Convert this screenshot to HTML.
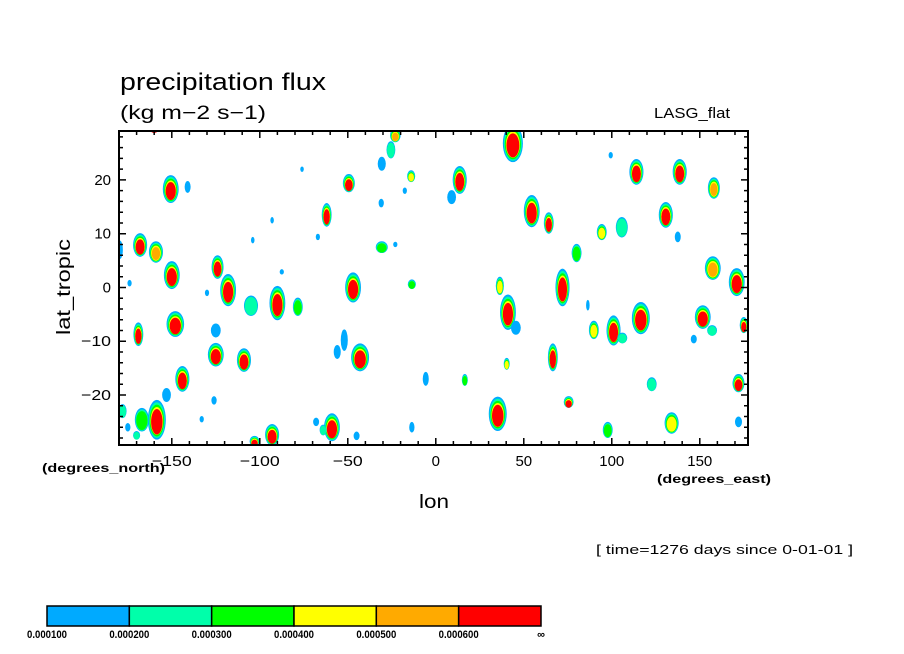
<!DOCTYPE html>
<html><head><meta charset="utf-8">
<style>
html,body{margin:0;padding:0;background:#fff;}
svg{display:block;font-family:"Liberation Sans",sans-serif;}
</style></head>
<body>
<svg id="chart" width="904" height="654" viewBox="0 0 904 654" xmlns="http://www.w3.org/2000/svg">
  <rect x="0" y="0" width="904" height="654" fill="#fff"/>
  <text x="120" y="90" font-size="24" textLength="206" lengthAdjust="spacingAndGlyphs">precipitation flux</text>
  <text x="120" y="119" font-size="19" textLength="146" lengthAdjust="spacingAndGlyphs">(kg m−2 s−1)</text>
  <text x="654" y="118" font-size="15" textLength="76" lengthAdjust="spacingAndGlyphs">LASG_flat</text>
  <defs><clipPath id="plotclip"><rect x="119" y="131" width="629" height="314"/></clipPath></defs>
  <g id="blobs" clip-path="url(#plotclip)"></g>
  <g id="axes"></g>
  <text transform="translate(70,287) rotate(-90)" font-size="19" text-anchor="middle" textLength="96" lengthAdjust="spacingAndGlyphs">lat_tropic</text>
  <text x="434" y="508" font-size="19" text-anchor="middle" textLength="30" lengthAdjust="spacingAndGlyphs">lon</text>
  <text x="42" y="472" font-size="12" font-weight="bold" textLength="123" lengthAdjust="spacingAndGlyphs">(degrees_north)</text>
  <text x="657" y="483" font-size="12" font-weight="bold" textLength="114" lengthAdjust="spacingAndGlyphs">(degrees_east)</text>
  <text x="596" y="554" font-size="13" textLength="257" lengthAdjust="spacingAndGlyphs">[ time=1276 days since 0-01-01 ]</text>
  <g id="colorbar"></g>
</svg>
<script>
const levelColors = ["#00aaff","#00ffaa","#00ff00","#ffff00","#ffaa00","#ff0000"];
const levelLabels = ["0.000100","0.000200","0.000300","0.000400","0.000500","0.000600","∞"];
const lonTicks = [-150,-100,-50,0,50,100,150];
const latTicks = [-20,-10,0,10,20];
// blob centers (lon, lat), peak level, half-widths in degrees
const blobLon = [-160,-150.6,-141,-168,-159,-179.5,-150,-174,-124,-118,-130,-105,-90,-78.4,-87.5,-148,-169,-125,-125,-109,-144,-178,-167,-158.5,-175,-126,-133,-103,-93,-59,-45,-68,-62,-49.4,-76,-93,-67,-104,-30.7,-23,-47,-13.6,-43,-52,-5.7,-13.6,-23,-25.5,-30.7,-14,-17.6,-31,13.6,9,43.8,54.5,64.2,80,72,36.4,41,45.5,86.4,89.8,101,106,116.5,151.7,157,146.6,157.4,171,175,172,66.5,40.3,16.5,35.2,75.5,97.7,134,122.7,99.4,114,138.6,158,130.7,137.5,105.7,94.3,172,-153,-64,-170,-56];
const blobLat = [29.5,18.3,18.7,7.9,6.6,7,2.3,0.8,3.8,-0.5,-1,-3.4,-2.9,-3.6,2.9,-6.8,-8.7,-12.5,-8,-13.5,-17,-23,-24.6,-24.6,-26,-21,-24.5,-28.6,-27.4,-26,-27.6,-25,13.5,19.4,22,12.5,9.4,8.8,7.5,8,0,0.6,-13,-9.8,-17,-26,28.3,25.6,23,20.7,18,15.7,20,16.8,26.8,14.2,12,6.4,0,0.3,-4.6,-7.5,-3.3,-7.9,-8,-9.4,-5.7,-5.5,-8,-9.6,3.6,1,-7,-17.8,-13,-14.2,-17.2,-23.5,-21.3,-26.5,-25.2,-18,24.6,21.5,21.5,18.5,13.5,9.4,11.2,10.3,-25,-20,-26.5,-27.5,-12];
const blobLevel = [6,6,1,6,5,1,6,1,6,6,1,2,6,3,1,6,6,6,1,6,6,2,3,6,1,1,1,6,6,6,1,1,6,6,1,1,1,1,3,1,6,3,6,1,1,1,5,2,1,4,1,1,6,1,6,6,6,3,6,4,6,1,1,4,6,2,6,6,2,1,5,6,6,6,6,4,3,6,6,3,4,2,1,6,6,5,6,1,2,4,1,1,2,2,1];
const blobRx = [3,4.5,1.7,4,4,1.7,4.5,1.2,3.4,4.5,1.2,4,4.5,2.8,1.2,5,2.8,4.5,2.8,4,4,2.3,4,5.1,1.5,1.5,1.2,2.8,4,4.5,1.7,1.7,2.8,3.4,1,1,1.2,1,3.4,1.2,4.5,2.3,5.1,2,1.7,1.5,3,2.5,2.3,2.3,1.2,1.5,4,2.5,5.7,4.5,2.8,2.8,4,2.3,4.5,2.8,1,2.8,4,2.8,5.1,4.5,2.8,1.7,4.5,4.5,2.3,3.4,2.8,1.7,1.7,5.1,2.8,2.8,4,2.8,1.2,4,4,3.4,4,1.7,3.4,2.8,2,2.5,2,2,2];
const blobRy = [0.6,2.6,1.1,2.2,2,1.7,2.6,0.6,2.2,3,0.6,1.9,3.2,1.7,0.5,2.4,2.2,2.2,1.3,2.2,2.4,1.3,2.2,3.7,0.8,0.8,0.6,1,2,2.6,0.8,0.8,2.2,1.7,0.5,0.6,0.6,0.6,1.1,0.5,2.8,0.9,2.6,2,1.3,1,1.3,1.6,1.3,1.1,0.6,0.8,2.6,1.3,3.5,3,2,1.7,3.5,1.7,3.3,1.3,1,1.7,2.8,1,3,2.2,1,0.8,2.2,2.6,1.5,1.7,2.6,1.1,1.1,3.2,1.1,1.5,2,1.3,0.6,2.4,2.4,2,2.4,1,1.9,1.5,1,1.3,1,0.8,1.3];

const X0=119, X1=748, Y0=131, Y1=445;
const lonMin=-180, lonMax=177.4, latMin=-29.3, latMax=29.1;
function xScale(lon){return X0+(lon-lonMin)/(lonMax-lonMin)*(X1-X0);}
function yScale(lat){return Y1-(lat-latMin)/(latMax-latMin)*(Y1-Y0);}
const pxPerLon=(X1-X0)/(lonMax-lonMin), pxPerLat=(Y1-Y0)/(latMax-latMin);
const NS="http://www.w3.org/2000/svg";
const gB=document.getElementById('blobs');
for(let i=0;i<blobLon.length;i++){
  const L=blobLevel[i];
  const cx=xScale(blobLon[i]), cy=yScale(blobLat[i]);
  for(let k=1;k<=L;k++){
    const s = (k===6)? 0.64 : 1-(k-1)*0.1;
    const e=document.createElementNS(NS,'ellipse');
    e.setAttribute('cx',cx);
    e.setAttribute('cy',cy+(k-1)*0.4);
    e.setAttribute('rx',Math.max(0.8,blobRx[i]*pxPerLon*s));
    e.setAttribute('ry',Math.max(0.8,blobRy[i]*pxPerLat*s));
    e.setAttribute('fill',levelColors[k-1]);
    
    
    gB.appendChild(e);
  }
}
// axes
const gA=document.getElementById('axes');
function add(parent,tag,attrs){const e=document.createElementNS(NS,tag);for(const a in attrs)e.setAttribute(a,attrs[a]);parent.appendChild(e);return e;}
const frame=add(gA,'rect',{x:X0,y:Y0,width:X1-X0,height:Y1-Y0,fill:'none',stroke:'#000','stroke-width':2});


let path='';
for(let lon=-170;lon<=170;lon+=10){
  const x=xScale(lon), len=(lon%50===0)?7:4;
  path+=`M${x},${Y1}v${-len}M${x},${Y0}v${len}`;
}
for(let lat=-28;lat<=28;lat+=2){
  const y=yScale(lat), len=(lat%10===0)?7:4;
  path+=`M${X0},${y}h${len}M${X1},${y}h${-len}`;
}
const tk=add(gA,'path',{d:path,stroke:'#000','stroke-width':1.5,fill:'none'});


lonTicks.forEach(v=>{
  const t=add(gA,'text',{x:xScale(v),y:Y1+21,'font-size':15,'text-anchor':'middle'});
  t.textContent=v<0?'−'+Math.abs(v):v;
  if(v<0){t.setAttribute('textLength', String(Math.abs(v)>=100?40:30));t.setAttribute('lengthAdjust','spacingAndGlyphs');}
  
  
});
latTicks.forEach(v=>{
  const t=add(gA,'text',{x:X0-8,y:yScale(v)+5,'font-size':15,'text-anchor':'end'});
  t.textContent=v<0?'−'+Math.abs(v):v;
  if(v<0){t.setAttribute('textLength','30');t.setAttribute('lengthAdjust','spacingAndGlyphs');}
  
  
});
// colorbar
const gC=document.getElementById('colorbar');
const cbX=47, cbW=494, cbY=606, cbH=20, seg=cbW/levelColors.length;
levelColors.forEach((c,i)=>{
  const r=add(gC,'rect',{x:cbX+i*seg,y:cbY,width:seg,height:cbH,fill:c,stroke:'#000','stroke-width':1.5});
  
  
});
levelLabels.forEach((s,i)=>{
  const t=add(gC,'text',{x:cbX+i*seg,y:cbY+32,'font-size':11,'font-weight':'bold','text-anchor':'middle'});
  t.textContent=s;
  if(s.length>2){t.setAttribute('textLength','40');t.setAttribute('lengthAdjust','spacingAndGlyphs');}
  
  
});
</script>
</body></html>
